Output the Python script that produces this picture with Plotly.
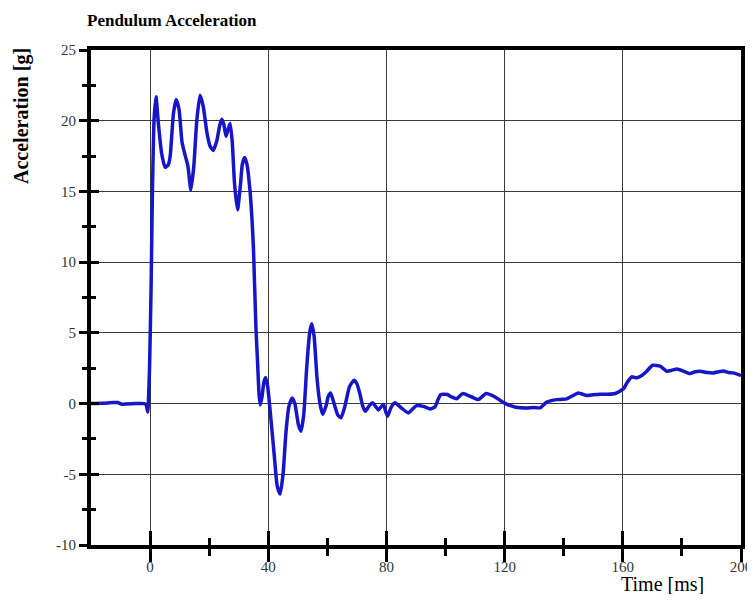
import plotly.graph_objects as go

# ---- data ----
time_ms = [-20, -16, -12.5, -11, -9.5, -8, -5, -2, -1.3, -0.8, -0.2, 0.34, 0.8, 1.35, 2.0, 2.8,
           3.9, 5.1, 6.2, 6.8, 7.9, 8.8, 9.8, 10.8, 11.8, 12.8, 13.8, 14.8, 15.8, 16.9, 18.0,
           19.2, 20.3, 21.4, 22.6, 23.6, 24.3, 25.0, 25.7, 26.4, 27.1, 27.8, 28.6, 29.6, 30.6,
           31.2, 32.0, 32.8, 33.8, 34.5, 35.0, 35.8, 36.4, 36.9, 37.3, 37.9, 38.5, 39.1, 39.8,
           40.9, 42.0, 43.0, 44.0, 45.0, 46.0, 47.0, 48.1, 49.0, 50.2, 51.1, 52.0, 53.0, 54.0,
           54.7, 55.5, 56.5, 57.5, 58.4, 59.5, 60.3, 61.1, 62.0, 63.5, 64.6, 65.8, 67.5, 69.0,
           70.0, 71.0, 72.0, 72.9, 74.2, 75.4, 76.3, 77.3, 78.3, 79.0, 79.8, 80.4, 81.5, 82.9,
           85.0, 87.4, 88.8, 90.2, 92.5, 94.8, 96.4, 97.5, 98.4, 100.6, 102.2, 103.8, 105.8,
           108.5, 111.1, 113.7, 115.5, 117.3, 119.0, 120.3, 122.0, 123.4, 125.5, 127.5, 130.0,
           132.0, 134.2, 137.6, 139.5, 141.0, 143.0, 144.9, 147.8, 150.0, 152.3, 155.0, 157.4,
           160.2, 161.5, 163.0, 164.7, 166.4, 168.1, 170.1, 172.6, 174.9, 176.5, 178.3, 180.5,
           182.7, 184.5, 186.1, 188.5, 190.6, 192.5, 194.0, 195.8, 197.4, 200.0]
accel_g = [0.0, 0.02, 0.08, 0.07, -0.05, -0.03, 0.0, 0.0, -0.1, -0.6, 2.4, 8.3, 15.1, 20.1, 21.7, 19.8,
           17.7, 16.7, 16.9, 17.5, 20.5, 21.5, 20.8, 18.5, 17.6, 16.8, 15.1, 16.8, 20.0, 21.8, 21.0,
           19.2, 18.2, 17.9, 18.6, 19.7, 20.1, 19.7, 18.9, 19.4, 19.8, 18.5, 15.5, 13.7, 15.5,
           16.9, 17.4, 16.9, 15.1, 13.0, 10.9, 5.5, 2.8, 0.6, -0.1, 0.5, 1.5, 1.85, 1.2,
           -1.1, -3.6, -5.8, -6.4, -5.0, -2.0, -0.2, 0.4, 0.0, -1.5, -1.95, -0.8, 2.5, 5.0,
           5.65, 4.8, 1.8, 0.0, -0.75, -0.2, 0.5, 0.75, 0.2, -0.8, -1.0, -0.3, 1.2, 1.65,
           1.4, 0.7, -0.2, -0.55, -0.15, 0.05, -0.2, -0.45, -0.2, -0.07, -0.6, -0.9, -0.3, 0.05,
           -0.3, -0.66, -0.4, -0.14, -0.2, -0.38, -0.24, 0.3, 0.64, 0.64, 0.45, 0.35, 0.71,
           0.5, 0.28, 0.71, 0.6, 0.4, 0.15, 0.0, -0.15, -0.24, -0.3, -0.31, -0.28,
           -0.3, 0.1, 0.28, 0.3, 0.33, 0.55, 0.75, 0.57, 0.62, 0.66, 0.66, 0.71,
           1.04, 1.5, 1.89, 1.82, 1.98, 2.29, 2.71, 2.64, 2.29, 2.35, 2.45, 2.3,
           2.12, 2.25, 2.29, 2.2, 2.17, 2.25, 2.31, 2.2, 2.17, 1.98]

x_major = [0, 40, 80, 120, 160, 200]
x_major_labels = ["0", "40", "80", "120", "160", "200"]
x_minor = [20, 60, 100, 140, 180]
y_major = [-10, -5, 0, 5, 10, 15, 20, 25]
y_major_labels = ["-10", "-5", "0", "5", "10", "15", "20", "25"]
y_minor = [-7.5, -2.5, 2.5, 7.5, 12.5, 17.5, 22.5]

title_text = "Pendulum Acceleration"
y_title = "Acceleration [g]"
x_title = "Time [ms]"

SERIF = "Liberation Serif, Times New Roman, serif"

fig = go.Figure()
fig.add_trace(go.Scatter(x=time_ms, y=accel_g, mode="lines",
                         line=dict(color="#1616c8", width=3.5, shape="spline", smoothing=0.5),
                         showlegend=False, hoverinfo="skip"))
# dummy trace to activate the overlay axes (inside half of the crossing ticks)
fig.add_trace(go.Scatter(x=[None], y=[None], xaxis="x2", yaxis="y2", showlegend=False, hoverinfo="skip"))

xr = [-20, 200]
yr = [-10, 25]

# the page body has an 8px default margin, so the figure is sized to fit inside it
fig.update_layout(
    width=747, height=586,
    margin=dict(l=83, r=14, t=42, b=49, autoexpand=False),
    paper_bgcolor="white", plot_bgcolor="white",
    xaxis=dict(range=xr, tickmode="array", tickvals=x_major, ticktext=x_major_labels,
               automargin=False, ticklabeloverflow="allow", ticklabelstandoff=-8,
               ticks="outside", ticklen=13, tickwidth=3, tickcolor="black",
               showgrid=True, gridcolor="#3a3a3a", gridwidth=1,
               showline=True, linewidth=4, linecolor="black", mirror=True,
               zeroline=False,
               tickfont=dict(family=SERIF, size=15, color="#333333"),
               minor=dict(tickvals=x_minor, ticks="outside", ticklen=7, tickwidth=3,
                          tickcolor="black", showgrid=False)),
    yaxis=dict(range=yr, tickmode="array", tickvals=y_major, ticktext=y_major_labels,
               automargin=False, ticklabeloverflow="allow",
               ticks="outside", ticklen=8, tickwidth=3, tickcolor="black",
               showgrid=True, gridcolor="#3a3a3a", gridwidth=1,
               showline=True, linewidth=4, linecolor="black", mirror=True,
               zeroline=False,
               tickfont=dict(family=SERIF, size=15, color="#333333"),
               minor=dict(tickvals=y_minor, ticks="outside", ticklen=5, tickwidth=3,
                          tickcolor="black", showgrid=False)),
    xaxis2=dict(range=xr, overlaying="x", anchor="y", side="bottom", automargin=False,
                tickmode="array", tickvals=x_major, ticks="inside", ticklen=14, tickwidth=3,
                tickcolor="black", showticklabels=False, showgrid=False, showline=False,
                zeroline=False,
                minor=dict(tickvals=x_minor, ticks="inside", ticklen=7, tickwidth=3,
                           tickcolor="black", showgrid=False)),
    yaxis2=dict(range=yr, overlaying="y", anchor="x", side="left", automargin=False,
                tickmode="array", tickvals=y_major, ticks="inside", ticklen=8, tickwidth=3,
                tickcolor="black", showticklabels=False, showgrid=False, showline=False,
                zeroline=False,
                minor=dict(tickvals=y_minor, ticks="inside", ticklen=5, tickwidth=3,
                           tickcolor="black", showgrid=False)),
    annotations=[
        dict(text="<b>" + title_text + "</b>", xref="paper", yref="paper",
             x=-0.01, y=1.0, yshift=41, xanchor="left", yanchor="top", showarrow=False,
             font=dict(family=SERIF, size=17, color="black")),
        dict(text="<b>" + y_title + "</b>", xref="paper", yref="paper", textangle=-90,
             x=0, xshift=-70, y=1.0, yshift=-66, xanchor="center", yanchor="middle",
             showarrow=False, font=dict(family=SERIF, size=20, color="black")),
        dict(text=x_title, xref="paper", yref="paper",
             x=0.879, y=0, yshift=-39, xanchor="center", yanchor="middle", showarrow=False,
             font=dict(family=SERIF, size=20, color="black")),
    ],
)

fig.write_html("out.html")
